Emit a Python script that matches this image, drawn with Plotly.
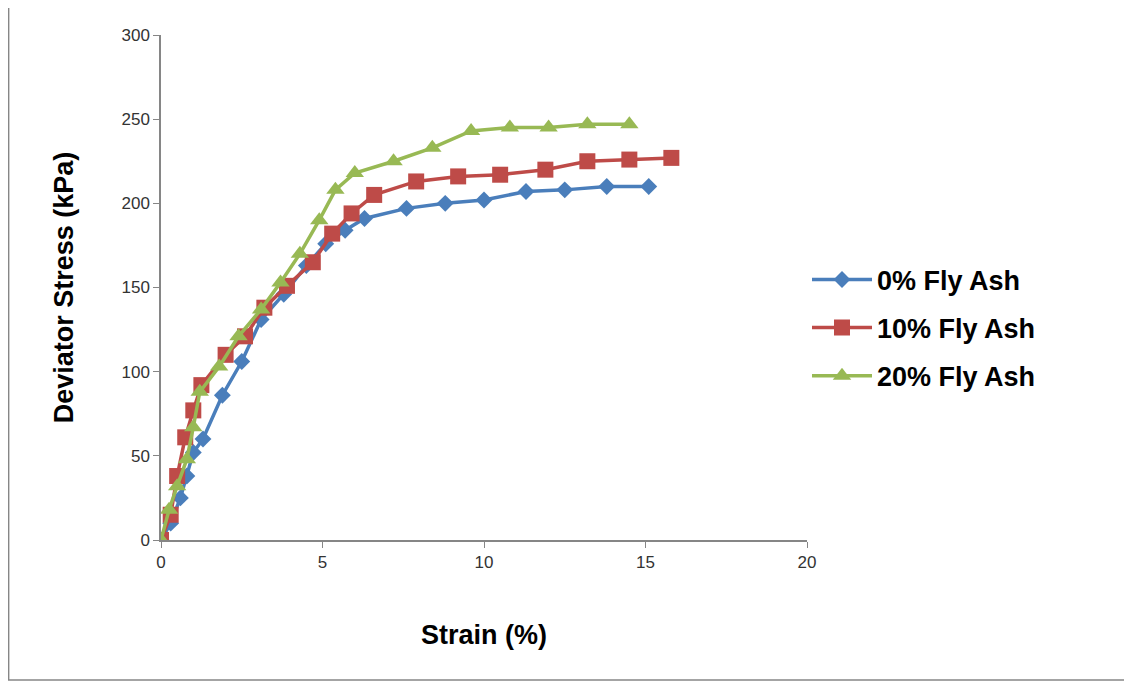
import plotly.graph_objects as go

x0 = [0, 0.3, 0.6, 0.8, 1.0, 1.3, 1.9, 2.5, 3.1, 3.8, 4.5, 5.1, 5.7, 6.3, 7.6, 8.8, 10.0, 11.3, 12.5, 13.8, 15.1]
y0 = [0, 10, 25, 38, 52, 60, 86, 106, 131, 146, 163, 176, 184, 191, 197, 200, 202, 207, 208, 210, 210]
x10 = [0, 0.3, 0.5, 0.75, 1.0, 1.25, 2.0, 2.6, 3.2, 3.9, 4.7, 5.3, 5.9, 6.6, 7.9, 9.2, 10.5, 11.9, 13.2, 14.5, 15.8]
y10 = [0, 15, 38, 61, 77, 92, 110, 121, 138, 151, 165, 182, 194, 205, 213, 216, 217, 220, 225, 226, 227]
x20 = [0, 0.25, 0.5, 0.8, 1.0, 1.2, 1.8, 2.4, 3.1, 3.7, 4.3, 4.9, 5.4, 6.0, 7.2, 8.4, 9.6, 10.8, 12.0, 13.2, 14.5]
y20 = [0, 18, 32, 48, 67, 88, 103, 121, 137, 153, 170, 190, 208, 218, 225, 233, 243, 245, 245, 247, 247]

series = [
    ("0% Fly Ash", x0, y0, "#4a7ebb", "diamond", 13),
    ("10% Fly Ash", x10, y10, "#be4b48", "square", 16),
    ("20% Fly Ash", x20, y20, "#98b954", "triangle-up", 16),
]

fig = go.Figure()
for name, xs, ys, col, sym, sz in series:
    fig.add_trace(go.Scatter(x=xs, y=ys, name=f"<b>{name}</b>", mode="lines+markers",
                             legendgroup=name,
                             line=dict(color=col, width=3.5),
                             marker=dict(symbol=sym, size=sz, color=col)))

axis_common = dict(showline=True, linecolor="#868686", linewidth=1.5, ticks="outside",
                   tickcolor="#868686", ticklen=6, showgrid=False, zeroline=False,
                   tickfont=dict(family="Liberation Sans", size=17, color="#333"))
fig.update_xaxes(range=[0, 20], dtick=5, title=dict(text="<b>Strain (%)</b>", standoff=54,
                 font=dict(family="Liberation Sans", size=27, color="black")), **axis_common)
fig.update_yaxes(range=[0, 300], dtick=50, title=dict(text="<b>Deviator Stress (kPa)</b>", standoff=40,
                 font=dict(family="Liberation Sans", size=27, color="black")), **axis_common)
fig.update_layout(width=1132, height=684, plot_bgcolor="white", paper_bgcolor="white",
                  margin=dict(l=153, r=333, t=27, b=152, autoexpand=False),
                  legend=dict(x=1.0, y=0.42, yanchor="middle", traceorder="grouped",
                              font=dict(family="Liberation Sans", size=27, color="black"),
                              itemwidth=60, tracegroupgap=10),
                  font=dict(family="Liberation Sans"))
W, H = 646.0, 505.0
fig.add_shape(type="rect", xref="paper", yref="paper",
              x0=-(161 - 8) / W + 0.001, x1=(1128 - 161) / W, y0=-(680 - 540) / H, y1=1 + (35 - 3) / H,
              line=dict(color="#868686", width=1.5))
fig.write_html("out.html")
